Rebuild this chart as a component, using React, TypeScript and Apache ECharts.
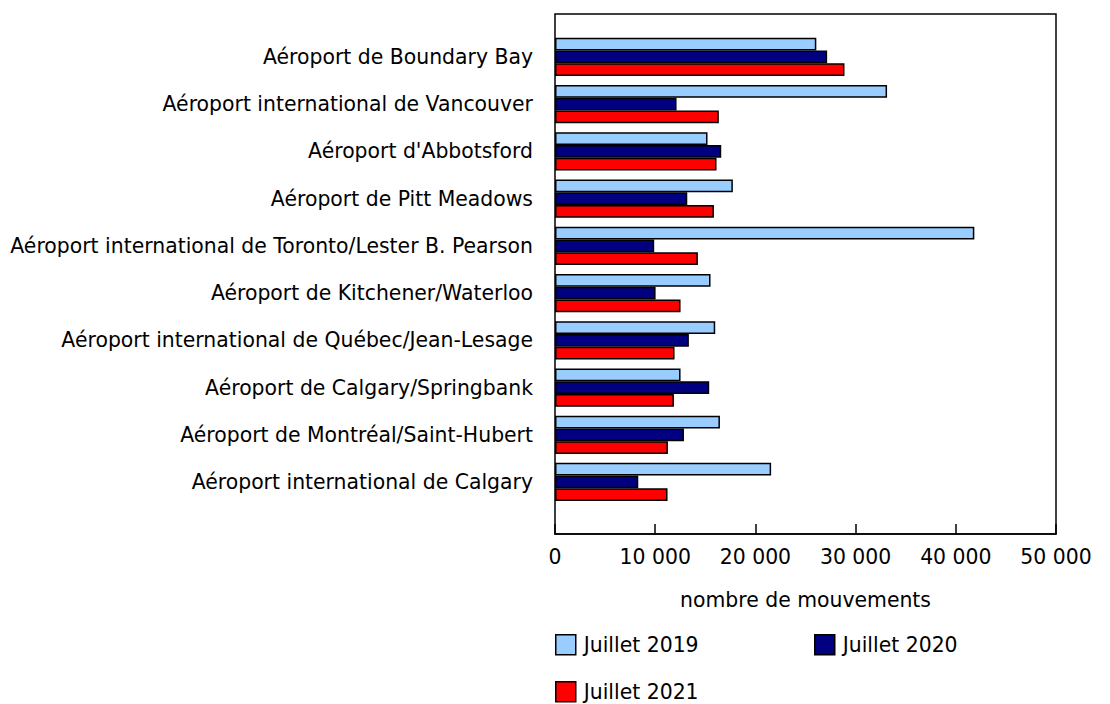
import React, { useEffect, useRef } from "react";
import * as echarts from "echarts";

const categories = [
  "Aéroport de Boundary Bay",
  "Aéroport international de Vancouver",
  "Aéroport d'Abbotsford",
  "Aéroport de Pitt Meadows",
  "Aéroport international de Toronto/Lester B. Pearson",
  "Aéroport de Kitchener/Waterloo",
  "Aéroport international de Québec/Jean-Lesage",
  "Aéroport de Calgary/Springbank",
  "Aéroport de Montréal/Saint-Hubert",
  "Aéroport international de Calgary",
];
const seriesNames = ["Juillet 2019", "Juillet 2020", "Juillet 2021"];
const july2019 = [26080, 33140, 15220, 17750, 41850, 15520, 15990, 12530, 16460, 21570];
const july2020 = [27160, 12130, 16590, 13200, 9900, 10040, 13360, 15390, 12870, 8310];
const july2021 = [28890, 16350, 16120, 15860, 14260, 12530, 11930, 11870, 11270, 11230];
const xTicks = { min: 0, max: 50000, interval: 10000 };
const xTitle = "nombre de mouvements";

const colors = ["#99CCFF", "#000080", "#FF0000"];
const FONT = "Verdana, 'DejaVu Sans', sans-serif";
const FS = 20.4;

const fmt = (v: number) => String(v).replace(/\B(?=(\d{3})+(?!\d))/g, " ");

export default function App() {
  const ref = useRef<HTMLDivElement>(null);
  useEffect(() => {
    if (!ref.current) return;
    const chart = echarts.init(ref.current, null, { renderer: "svg" });
    const values = [july2019, july2020, july2021];
    chart.setOption({
      animation: false,
      backgroundColor: "#ffffff",
      grid: [
        { left: 555, right: 54, top: 33.3, bottom: 198.4, show: false },
        { left: 555, right: 54, top: 14, bottom: 170, show: true, borderColor: "#000", borderWidth: 1.5, backgroundColor: "transparent" },
      ],
      xAxis: [
        { gridIndex: 0, type: "value", ...xTicks, show: false },
        {
          gridIndex: 1,
          type: "value",
          ...xTicks,
          axisLine: { show: true, lineStyle: { color: "#000", width: 1.5 } },
          axisTick: { show: true, inside: true, length: 10, lineStyle: { color: "#000", width: 1.5 } },
          splitLine: { show: false },
          axisLabel: { formatter: fmt, color: "#000", fontSize: FS, fontFamily: FONT, margin: 13 },
          name: xTitle,
          nameLocation: "middle",
          nameGap: 56,
          nameTextStyle: { color: "#000", fontSize: FS, fontFamily: FONT },
        },
      ],
      yAxis: [
        {
          gridIndex: 0,
          type: "category",
          data: categories,
          inverse: true,
          axisLine: { show: false },
          axisTick: { show: false },
          axisLabel: { color: "#000", fontSize: FS, fontFamily: FONT, margin: 22 },
        },
        { gridIndex: 1, type: "value", show: false },
      ],
      legend: seriesNames.map((n, i) => ({
        data: [n],
        left: i === 1 ? 814 : 555,
        top: i === 2 ? 681 : 634,
        padding: 0,
        icon: "rect",
        itemWidth: 20,
        itemHeight: 20,
        itemGap: 6,
        textStyle: { color: "#000", fontSize: FS, fontFamily: FONT, padding: [0, 0, 0, 3] },
        itemStyle: { borderColor: "#000", borderWidth: 1.5 },
      })),
      series: seriesNames.map((n, i) => ({
        name: n,
        type: "bar",
        xAxisIndex: 0,
        yAxisIndex: 0,
        data: values[i],
        barGap: "0%",
        barCategoryGap: "19%",
        itemStyle: { color: colors[i], borderColor: "#000", borderWidth: 1.5 },
      })),
    });
    return () => chart.dispose();
  }, []);
  return <div ref={ref} style={{ position: "fixed", left: 0, top: 0, width: 1110, height: 704 }} />;
}
